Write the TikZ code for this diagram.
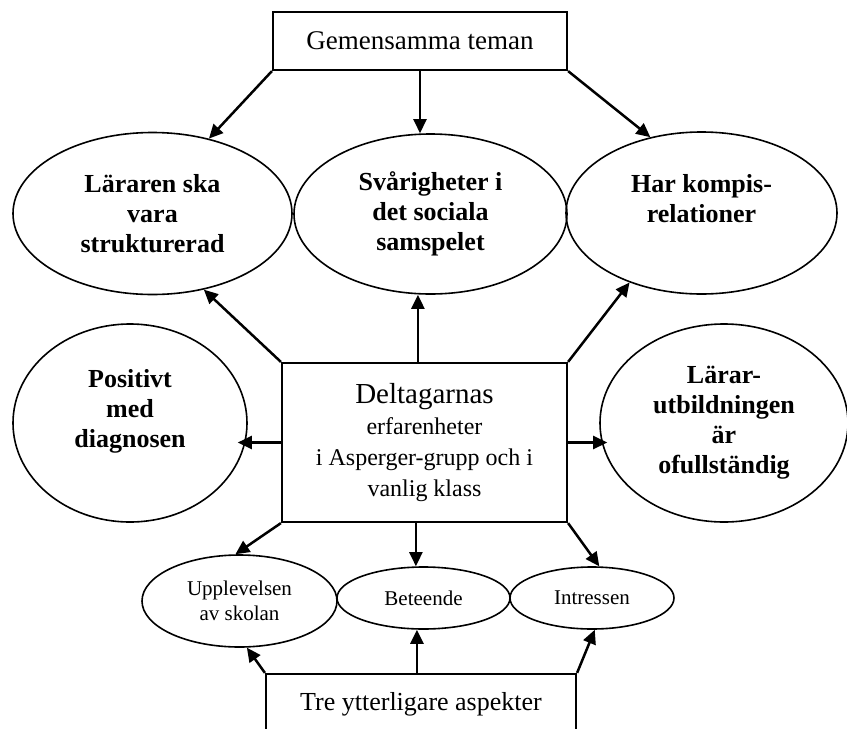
\documentclass[tikz,border=0pt]{standalone}
\usepackage{fontspec}
\setmainfont{Liberation Serif}
\usetikzlibrary{arrows.meta,shapes.geometric,calc}
\begin{document}
\begin{tikzpicture}[x=0.5pt,y=-0.5pt,
 box/.style={draw,line width=1.1pt,rectangle,inner sep=0pt},
 ell/.style={draw,ellipse,line width=0.8pt,inner sep=0pt,align=center},
 bigell/.style={ell,font=\fontsize{13pt}{15pt}\selectfont\bfseries},
 smallell/.style={ell,font=\fontsize{10.5pt}{12.5pt}\selectfont},
 arr/.style={-{Triangle[length=7pt,width=6.5pt]},line width=1.25pt}]
\useasboundingbox (0,0) rectangle (847,729);
\clip (0,0) rectangle (847,729);

\node[box,minimum width=147pt,minimum height=29pt,font=\fontsize{13.5pt}{16pt}\selectfont] (top) at (420,41) {Gemensamma teman};
\node[bigell,minimum width=139.5pt,minimum height=81pt] (lar) at (152.5,213.5) {Läraren ska\\vara\\strukturerad};
\node[bigell,minimum width=136.5pt,minimum height=80pt] (sva) at (430.5,214) {Svårigheter i\\det sociala\\samspelet};
\node[bigell,minimum width=135.5pt,minimum height=81pt] (har) at (701.5,213) {Har kompis-\\relationer\\\mbox{}};
\node[bigell,minimum width=117pt,minimum height=99pt] (pos) at (130,423) {Positivt\\med\\diagnosen\\\mbox{}};
\node[bigell,minimum width=124pt,minimum height=99pt] (lu) at (724,423) {Lärar-\\utbildningen\\är\\ofullständig};
\node[box,align=center,minimum width=142.5pt,minimum height=79.5pt,font=\fontsize{12pt}{15.5pt}\selectfont] (cen) at (424.5,442.5) {{\fontsize{14.5pt}{16pt}\selectfont Deltagarnas}\\erfarenheter\\i Asperger-grupp och i\\vanlig klass};

\node[smallell,minimum width=97.5pt,minimum height=46pt] (upp) at (239.5,601) {Upplevelsen\\av skolan};
\node[smallell,minimum width=86.5pt,minimum height=31pt] (bet) at (423.5,598) {Beteende};
\node[smallell,minimum width=82pt,minimum height=31pt] (int) at (592,598) {Intressen};
\node[box,minimum width=155pt,inner ysep=9pt,text depth=12pt,anchor=base,font=\fontsize{13pt}{15pt}\selectfont] (tre) at (421,710) {Tre ytterligare aspekter};

\draw[arr] (top.south west) -- (lar.53);
\draw[arr] (top.south) -- (top.south |- sva.north);
\draw[arr] (top.south east) -- (har.124);
\draw[arr] (cen.north west) -- (lar.-56);
\coordinate (c1) at ($(cen.north west)!0.477!(cen.north east)$);
\draw[arr] (c1) -- (c1 |- sva.south);
\draw[arr] (cen.north east) -- (har.224);
\draw[arr] (cen.west) -- ($(cen.west -| pos.east)+(-10,0)$);
\draw[arr] (cen.east) -- ($(cen.east -| lu.west)+(8,0)$);
\draw[arr] (cen.south west) -- (upp.95);
\coordinate (c2) at ($(cen.south west)!0.47!(cen.south east)$);
\draw[arr] (c2) -- (c2 |- bet.north);
\draw[arr] (cen.south east) -- (int.77);
\draw[arr] (tre.north west) -- (upp.-81);
\coordinate (c3) at ($(tre.north west)!0.487!(tre.north east)$);
\draw[arr] (c3) -- (c3 |- bet.south);
\draw[arr] (tre.north east) -- (int.-85);
\end{tikzpicture}
\end{document}
